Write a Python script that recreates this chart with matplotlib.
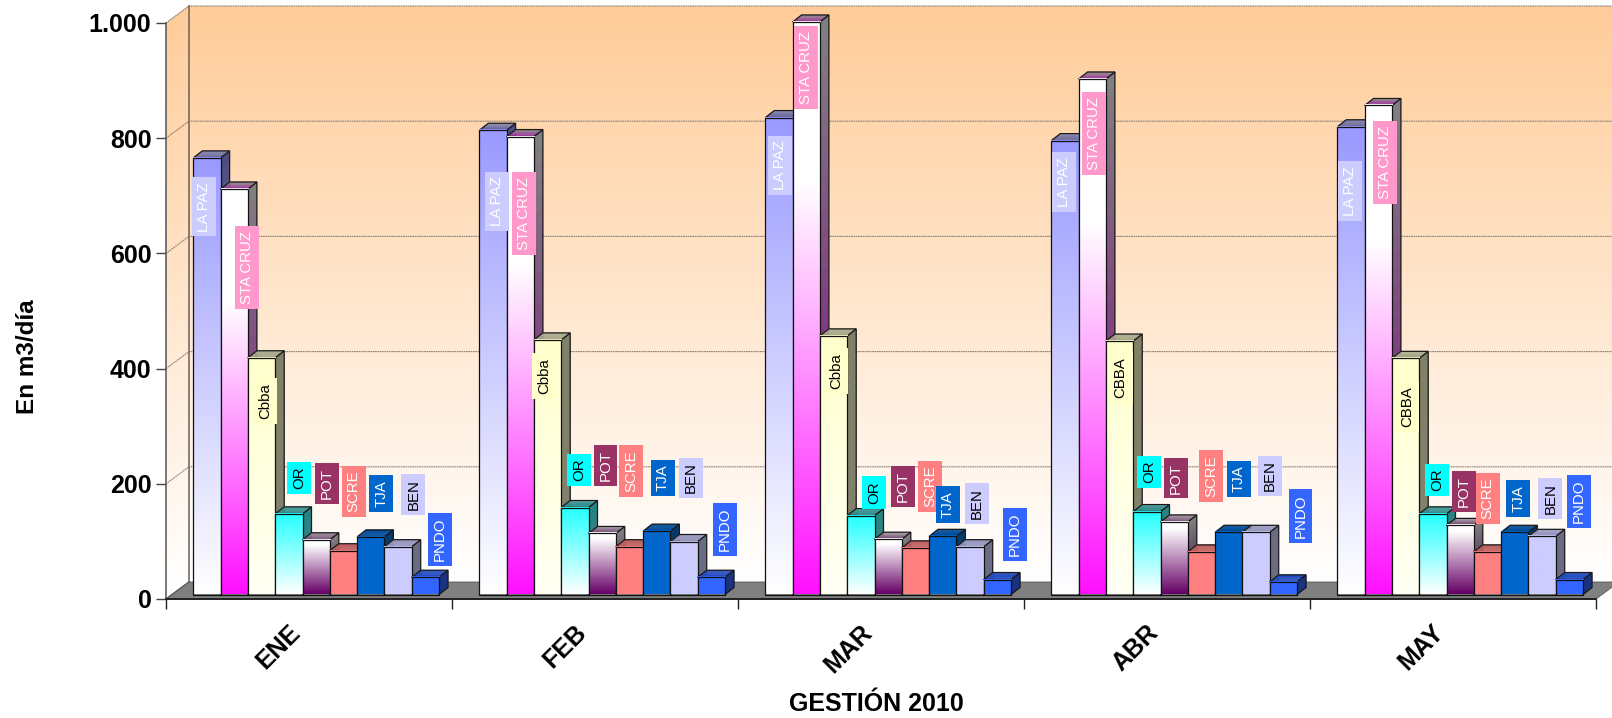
import numpy as np
import matplotlib
matplotlib.use("Agg")
import matplotlib.pyplot as plt
from matplotlib.colors import to_rgb, LinearSegmentedColormap
from matplotlib.patches import Polygon
from matplotlib.transforms import ScaledTranslation

plt.rcParams['font.family'] = ['Liberation Sans', 'DejaVu Sans']

# ---------- data ----------
months = ['ENE', 'FEB', 'MAR', 'ABR', 'MAY']
la_paz = [758, 806, 828, 788, 812]
sta_cruz = [704, 795, 994, 895, 849]
cbba = [411, 442, 449, 440, 410]
oruro = [140, 151, 137, 144, 140]
potosi = [95, 106, 96, 126, 120]
sucre = [76, 83, 81, 74, 74]
tarija = [100, 110, 101, 108, 108]
beni = [83, 92, 83, 108, 101]
pando = [30, 30, 26, 22, 26]
series = [la_paz, sta_cruz, cbba, oruro, potosi, sucre, tarija, beni, pando]
yticks = [0, 200, 400, 600, 800, 1000]
ytick_labels = ['0', '200', '400', '600', '800', '1.000']
names = ['LA PAZ', 'STA CRUZ', 'Cbba', 'OR', 'POT', 'SCRE', 'TJA', 'BEN', 'PNDO']
names_late = ['LA PAZ', 'STA CRUZ', 'CBBA', 'OR', 'POT', 'SCRE', 'TJA', 'BEN', 'PNDO']

# ---------- styles ----------
front_top = ['#9999FF', '#FFFFFF', '#FFFFCC', '#22FFFF', '#FFFFFF', '#FF8080', '#0066CC', '#CCCCFF', '#3366FF']
front_bot = ['#FFFFFF', '#FF10FF', '#FFFFF4', '#FFFFFF', '#660066', '#FF8080', '#0066CC', '#CCCCFF', '#3366FF']
front_hold = [1.0, 0.72, 1.0, 1.0, 0.9, 1.0, 1.0, 1.0, 1.0]
side_top = ['#4D4D80', '#808080', '#808066', '#208080', '#808080', '#804040', '#003366', '#666680', '#1A3380']
side_bot = ['#8080A0', '#800080', '#80806E', '#408080', '#330033', '#804040', '#003366', '#666680', '#1A3380']
top_back = ['#8C8CB0', '#909090', '#B0B098', '#50A0A0', '#A09AA0', '#C06060', '#004C99', '#9999BF', '#264DBF']
top_front = ['#5C5C99', '#A020A0', '#A0A080', '#208080', '#704070', '#C06060', '#004C99', '#9999BF', '#264DBF']
box_col = ['#CCCCFF', '#FF99CC', '#FFFFCC', '#00FFFF', '#993366', '#FF8080', '#0066CC', '#CCCCFF', '#3366FF']
txt_col = ['white', 'white', 'black', 'black', 'white', 'white', 'white', 'black', 'white']

# label centres read in the shrunk 1568 x 698 view
label_px = [
    [(198, 201), (240, 260), (258, 390), (291, 465), (318, 470), (344, 478), (371, 480), (402, 481), (428, 525)],
    [(483, 196), (510, 208), (529, 366), (563, 457), (589, 453), (614, 458), (645, 465), (672, 465), (705, 515)],
    [(759, 161), (784, 66), (813, 361), (850, 479), (878, 473), (905, 473), (922, 491), (950, 490), (987, 520)],
    [(1035, 177), (1064, 130), (1090, 367), (1118, 459), (1144, 465), (1178, 463), (1205, 466), (1235, 463), (1265, 502)],
    [(1313, 186), (1347, 158), (1369, 396), (1398, 467), (1424, 478), (1447, 485), (1477, 485), (1508, 485), (1536, 488)],
]

W, H = 1612, 718
L, R, Y0, Y1 = 166, 1596, 599, 23
fig = plt.figure(figsize=(W / 100, H / 100), dpi=100)
ax = fig.add_axes([L / W, 1 - Y0 / H, (R - L) / W, (Y0 - Y1) / H])
ax.set_xlim(0, 5)
ax.set_ylim(0, 1000)
ax.set_autoscale_on(False)

PX = 5 / (R - L)                # data x per pixel
PY = 1000 / (Y0 - Y1)           # data y per pixel
WX, WY = 23 * PX, 17 * PY       # wall depth
BX, BY = 9 * PX, 7 * PY         # bar depth
BASE = 4.5 * PY                 # bar base above the front floor edge
BW = 27.3 * PX
START = 27.3 * PX


def quad(c, col0, col1, z, n=30, edge=True):
    """Gradient quad: c = [a0, b0, b1, a1]; gradient runs a0/b0 -> a1/b1."""
    a0, b0, b1, a1 = [np.array(p, float) for p in c]
    c0, c1 = np.array(to_rgb(col0)), np.array(to_rgb(col1))
    for k in range(n):
        t0, t1 = k / n, (k + 1) / n
        pts = [a0 + (a1 - a0) * t0, b0 + (b1 - b0) * t0, b0 + (b1 - b0) * t1, a0 + (a1 - a0) * t1]
        col = c0 + (c1 - c0) * (k + .5) / n
        ax.add_patch(Polygon(pts, closed=True, fc=col, ec=col, lw=0.3, zorder=z, clip_on=False))
    if edge:
        ax.add_patch(Polygon([a0, b0, b1, a1], closed=True, fc='none', ec='#1a1a1a', lw=0.9,
                             zorder=z + 0.01, clip_on=False))


# walls
wall_cmap = LinearSegmentedColormap.from_list('wall', ['#FFFFFF', '#FFCC99'])
grad = np.linspace(1, 0, 256).reshape(-1, 1)
ax.imshow(grad, cmap=wall_cmap, aspect='auto', vmin=0, vmax=1, zorder=0.1, clip_on=False,
          extent=(WX, 5 + WX, WY, 1000 + WY))
quad([(0, 1000), (WX, 1000 + WY), (WX, WY), (0, 0)], '#FFCC99', '#FFFFFF', 0.1, n=120, edge=False)
ax.set_xlim(0, 5)
ax.set_ylim(0, 1000)

# gridlines on walls
for v in yticks[1:]:
    ax.plot([0, WX, 5 + WX], [v, v + WY, v + WY], color='#8c8078', lw=0.8, ls=(0, (1.5, 0.6)),
            zorder=0.3, clip_on=False)
ax.plot([WX, WX], [WY, 1000 + WY], color='#6b6058', lw=1.1, zorder=0.3, clip_on=False)
ax.plot([0, WX], [0, WY], color='#444444', lw=1, zorder=0.3, clip_on=False)

# floor
ax.add_patch(Polygon([(0, 0), (5, 0), (5 + WX, WY), (WX, WY)], closed=True, fc='#808080', ec='#555555',
                     lw=0.6, zorder=0.4, clip_on=False))

# bars
z = 3.0
for g in range(len(months)):
    for s, vals in enumerate(series):
        v = vals[g]
        x0 = g + START + s * BW
        x1 = x0 + BW
        t = BASE + v
        # side then top, then front face
        quad([(x1, t), (x1 + BX, t + BY), (x1 + BX, BASE + BY), (x1, BASE)], side_top[s], side_bot[s], z, n=30)
        quad([(x0, t), (x1, t), (x1 + BX, t + BY), (x0 + BX, t + BY)], top_front[s], top_back[s], z + 0.02, n=6)
        stops = [(0, front_bot[s]), (front_hold[s], front_top[s])]
        if front_hold[s] < 1:
            stops.append((1, front_top[s]))
        cmap = LinearSegmentedColormap.from_list('b', stops)
        ax.bar(x0, v, BW, bottom=BASE, align='edge', facecolor='none', edgecolor='#111111',
               linewidth=0.9, zorder=z + 0.05, clip_on=False)
        ax.imshow(grad, cmap=cmap, aspect='auto', vmin=0, vmax=1, zorder=z + 0.04, clip_on=False,
                  extent=(x0, x1, BASE, t))
        z += 0.1
ax.set_xlim(0, 5)
ax.set_ylim(0, 1000)

# labels
k = 1612 / 1568
for g in range(len(months)):
    nm = names if g < 3 else names_late
    for s, (px, py) in enumerate(label_px[g]):
        xd = (px * k - L) * PX
        yd = (Y0 - py * k) * PY
        ax.text(xd, yd, nm[s], rotation=90, ha='center', va='center', fontsize=10.8, color=txt_col[s],
                zorder=20, clip_on=False, rotation_mode='default',
                bbox=dict(boxstyle='square,pad=0.33', fc=box_col[s], ec='none'))

# axes
for side in ('top', 'right'):
    ax.spines[side].set_visible(False)
ax.spines['left'].set_color('#555555')
ax.spines['left'].set_linewidth(1.1)
ax.spines['bottom'].set_color('#222222')
ax.spines['bottom'].set_linewidth(1.4)
ax.set_facecolor('none')
ax.set_yticks(yticks)
ax.set_yticklabels(ytick_labels, fontsize=18, fontweight='bold')
ax.tick_params(axis='y', length=7.5, width=1, color='#444444', pad=3)
ax.set_xticks(range(len(months) + 1))
ax.set_xticklabels([''] * (len(months) + 1))
ax.tick_params(axis='x', which='major', length=7.5, width=1, color='#222222')
ax.set_xticks(np.arange(len(months)) + 0.5, minor=True)
ax.set_xticklabels(months, minor=True, rotation=45, ha='right', va='top', rotation_mode='anchor',
                   fontsize=18, fontweight='bold')
ax.tick_params(axis='x', which='minor', length=0, pad=15.4)
shift = ScaledTranslation(-21 / 100, 0, fig.dpi_scale_trans)
for lab in ax.get_xticklabels(minor=True):
    lab.set_transform(lab.get_transform() + shift)
ax.set_xlabel('GESTIÓN 2010', fontsize=18, fontweight='bold')
ax.xaxis.set_label_coords(0.4965, -0.161)
ax.set_ylabel('En m3/día', fontsize=17.5, fontweight='bold')
ax.yaxis.set_label_coords(-0.0886, 0.42)

fig.savefig('out.png', dpi=100)
